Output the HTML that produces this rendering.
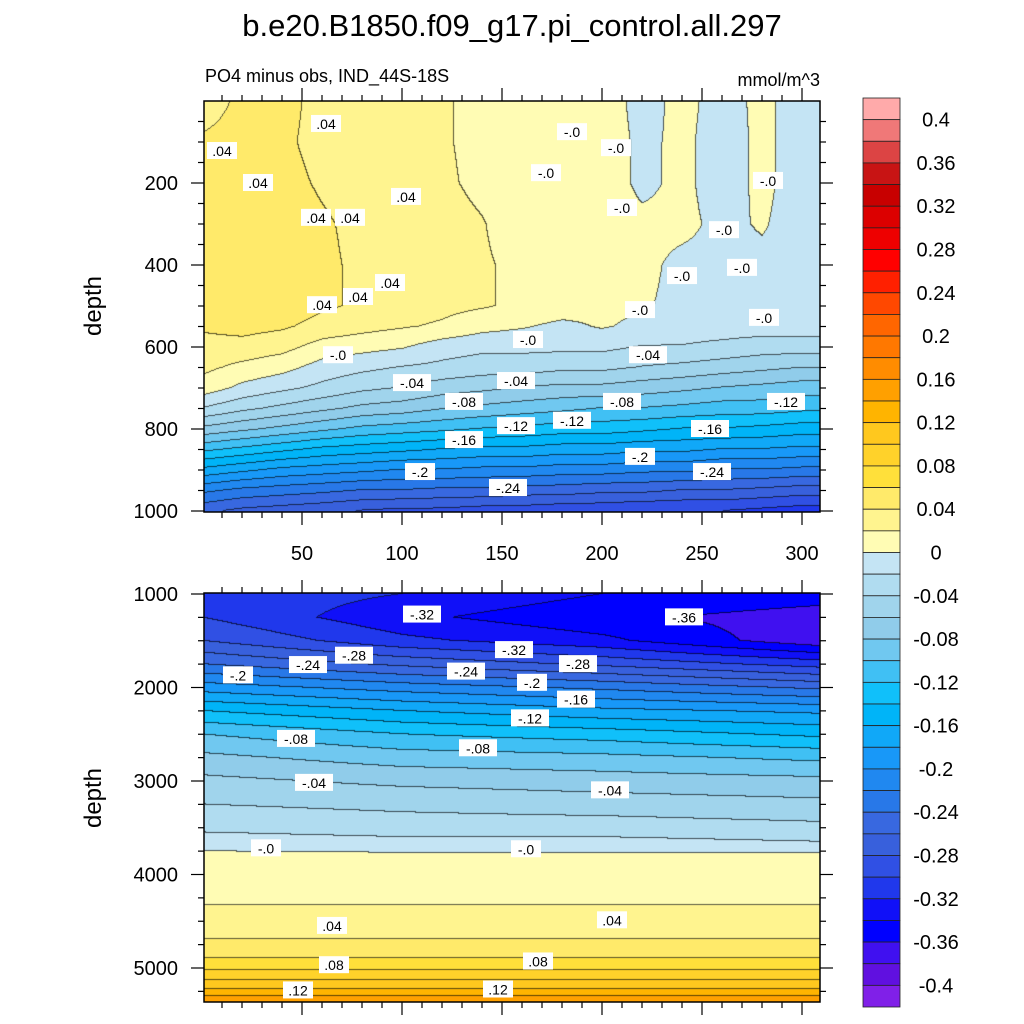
<!DOCTYPE html>
<html><head><meta charset="utf-8">
<style>
body{margin:0;background:#fff;width:1024px;height:1024px;overflow:hidden;font-family:"Liberation Sans",sans-serif;}
#wrap{position:relative;width:1024px;height:1024px;}
canvas{position:absolute;}
svg{position:absolute;left:0;top:0;}
</style></head><body>
<div id="wrap">
<canvas id="cTop" width="616" height="411" style="left:204px;top:101px"></canvas>
<canvas id="cBot" width="616" height="409" style="left:204px;top:593px"></canvas>
<svg id="ov" width="1024" height="1024"></svg>
</div>
<script>
// ---- data ----
const levels = [0.4,0.38,0.36,0.34,0.32,0.3,0.28,0.26,0.24,0.22,0.2,0.18,0.16,0.14,0.12,0.1,0.08,0.06,0.04,0.02,0,-0.02,-0.04,-0.06,-0.08,-0.1,-0.12,-0.14,-0.16,-0.18,-0.2,-0.22,-0.24,-0.26,-0.28,-0.3,-0.32,-0.34,-0.36,-0.38,-0.4];
const colors = ["#FFAAAA","#F07878","#DC4444","#C81414","#C80000","#DC0000","#EE0000","#FF0000","#FF2000","#FF4800","#FF6600","#FF7800","#FF8C00","#FFA000","#FFB400","#FFC81E","#FFD22A","#FFE03A","#FFEA6A","#FFF48F","#FFFCB4",
"#C4E4F4","#B0DCF0","#A0D4EC","#90CCEA","#70C8F0","#40C0F4","#10C0FA","#00B4F8","#10A8F8","#1898F8","#2088F0","#2878E8","#3868E0","#3860DC","#3050E4","#2038EC","#1010F8","#0000FF","#4010F0","#6010E0","#8020E8"];
const cbLabels = ["0.4","0.36","0.32","0.28","0.24","0.2","0.16","0.12","0.08","0.04","0","-0.04","-0.08","-0.12","-0.16","-0.2","-0.24","-0.28","-0.32","-0.36","-0.4"];
const topX = [0,20,40,60,80,100,120,140,160,180,200,220,240,260,280,300,310];
const topDepth = [0,100,200,300,400,500,550,600,650,700,750,800,850,900,950,1000];
const topVals = [
[0.033,0.043,0.045,0.035,0.033,0.025,0.022,0.015,0.012,0.005,0.012,-0.008,0.006,-0.008,0.005,-0.01,-0.01],
[0.042,0.045,0.043,0.035,0.032,0.025,0.022,0.015,0.006,0.006,0.012,-0.005,0.005,-0.01,0.005,-0.01,-0.005],
[0.043,0.048,0.045,0.038,0.033,0.027,0.023,0.016,0.006,0.011,0.012,-0.005,0.005,-0.01,0.005,-0.01,-0.005],
[0.045,0.052,0.048,0.042,0.036,0.031,0.026,0.021,0.011,0.011,0.011,0.005,0.005,-0.005,0.002,-0.01,-0.005],
[0.047,0.058,0.053,0.043,0.037,0.036,0.031,0.022,0.016,0.011,0.011,0.005,-0.005,-0.005,-0.005,-0.005,-0.005],
[0.047,0.058,0.053,0.043,0.037,0.032,0.026,0.022,0.016,0.011,0.006,0.002,-0.005,-0.01,-0.01,-0.01,-0.01],
[0.043,0.047,0.043,0.033,0.027,0.022,0.017,0.007,0.002,-0.005,0.002,-0.005,-0.01,-0.01,-0.01,-0.01,-0.01],
[0.033,0.033,0.027,0.012,0.007,0.002,-0.01,-0.015,-0.015,-0.015,-0.015,-0.021,-0.021,-0.025,-0.03,-0.03,-0.03],
[0.025,0.015,0.007,-0.008,-0.015,-0.021,-0.025,-0.03,-0.03,-0.035,-0.035,-0.041,-0.045,-0.05,-0.055,-0.06,-0.06],
[0.012,-0.005,-0.015,-0.025,-0.035,-0.041,-0.05,-0.055,-0.061,-0.065,-0.065,-0.07,-0.075,-0.081,-0.085,-0.09,-0.09],
[-0.021,-0.035,-0.045,-0.055,-0.065,-0.07,-0.079,-0.085,-0.09,-0.095,-0.101,-0.101,-0.105,-0.11,-0.11,-0.115,-0.115],
[-0.065,-0.075,-0.085,-0.095,-0.105,-0.11,-0.115,-0.121,-0.125,-0.13,-0.13,-0.135,-0.141,-0.141,-0.145,-0.15,-0.15],
[-0.115,-0.125,-0.135,-0.145,-0.15,-0.155,-0.161,-0.165,-0.165,-0.17,-0.17,-0.175,-0.175,-0.181,-0.181,-0.185,-0.185],
[-0.165,-0.175,-0.185,-0.19,-0.195,-0.201,-0.201,-0.205,-0.205,-0.21,-0.21,-0.215,-0.215,-0.221,-0.221,-0.225,-0.225],
[-0.215,-0.225,-0.23,-0.235,-0.241,-0.241,-0.245,-0.245,-0.25,-0.25,-0.255,-0.255,-0.261,-0.261,-0.265,-0.27,-0.27],
[-0.255,-0.265,-0.27,-0.275,-0.281,-0.285,-0.285,-0.29,-0.29,-0.295,-0.295,-0.3,-0.3,-0.3,-0.305,-0.31,-0.31]];
const botX = [0,100,200,310];
const botDepth = [1000,1250,1500,1750,2000,2250,2500,2750,3000,3250,3500,3700,3800,4000,4300,4500,4700,4900,5000,5100,5200,5300,5365];
const botVals = [
[-0.305,-0.32,-0.34,-0.35],[-0.30,-0.335,-0.355,-0.37],[-0.28,-0.315,-0.335,-0.375],[-0.24,-0.265,-0.285,-0.31],
[-0.19,-0.21,-0.225,-0.245],[-0.14,-0.16,-0.175,-0.185],[-0.10,-0.12,-0.13,-0.145],[-0.075,-0.09,-0.095,-0.105],
[-0.055,-0.065,-0.07,-0.075],[-0.04,-0.045,-0.05,-0.055],[-0.025,-0.03,-0.03,-0.035],[-0.005,-0.01,-0.01,-0.015],
[0.005,0.005,0.005,0.005],[0.012,0.012,0.012,0.012],[0.019,0.019,0.019,0.019],[0.026,0.026,0.026,0.026],
[0.041,0.041,0.041,0.041],[0.061,0.061,0.061,0.061],[0.075,0.075,0.075,0.075],[0.095,0.095,0.095,0.095],
[0.115,0.115,0.115,0.115],[0.14,0.14,0.14,0.14],[0.158,0.158,0.158,0.158]];
const topLabels = [["-.0",68,620],["-.04",105,688],["-.08",131,734],["-.04",157,683],["-.12",157,793],["-.16",131,827],["-.12",185,780],["-.08",210,734],["-.04",223,620],["-.16",254,800],["-.2",219,868],["-.2",109,905],["-.24",153,944],["-.24",255,905],["-.12",292,734],
[".04",62,56],[".04",10,122],[".04",28,200],[".04",57,285],[".04",74,285],[".04",102,234],[".04",94,444],[".04",78,478],[".04",60,498],
["-.0",185,76],["-.0",172,176],["-.0",207,115],["-.0",210,261],["-.0",261,315],["-.0",240,427],["-.0",270,407],["-.0",283,195],["-.0",281,529],["-.0",219,510],["-.0",163,583]];
const botLabels = [["-.32",110,1220],["-.36",241,1250],["-.28",76,1660],["-.32",156,1600],["-.24",53,1760],["-.2",18,1870],["-.24",132,1830],["-.28",188,1750],["-.2",165,1950],["-.16",187,2130],["-.12",164,2330],["-.08",47,2550],["-.08",138,2650],["-.04",56,3020],["-.04",204,3100],["-.0",32,3720],["-.0",162,3730],[".04",65,4550],[".04",205,4490],[".08",66,4970],[".08",168,4930],[".12",48,5240],[".12",148,5230]];

// ---- scales ----
const X0=204,X1=820;
const sx = v => 202 + 2*v;
const syTop = d => 101 + d*0.41;
const syBot = d => 594 + (d-1000)*0.0935;
function levelIdx(v){let i=0;while(i<levels.length&&v<levels[i]-1e-6)i++;return i;}
function interp(xs,ds,vals,x,d){
  let i=0;while(i<xs.length-2&&x>xs[i+1])i++;
  let j=0;while(j<ds.length-2&&d>ds[j+1])j++;
  let tx=Math.min(1,Math.max(0,(x-xs[i])/(xs[i+1]-xs[i])));
  let ty=Math.min(1,Math.max(0,(d-ds[j])/(ds[j+1]-ds[j])));
  const a=vals[j][i],b=vals[j][i+1],c=vals[j+1][i],e=vals[j+1][i+1];
  return (a*(1-tx)+b*tx)*(1-ty)+(c*(1-tx)+e*tx)*ty;
}
function hex(h){return [parseInt(h.slice(1,3),16),parseInt(h.slice(3,5),16),parseInt(h.slice(5,7),16)];}
const rgb = colors.map(hex);
function drawField(id,xs,ds,vals,toDepth){
  const cv=document.getElementById(id),ctx=cv.getContext('2d');
  const W=cv.width,H=cv.height,img=ctx.createImageData(W,H);
  const idx=new Int16Array(W*H);
  for(let py=0;py<H;py++)for(let px=0;px<W;px++){
    const x=(px+X0-202)/2, d=toDepth(py);
    idx[py*W+px]=levelIdx(interp(xs,ds,vals,x,d));
  }
  for(let py=0;py<H;py++)for(let px=0;px<W;px++){
    const k=py*W+px,c=rgb[idx[k]];
    let edge=(px<W-1&&idx[k]!==idx[k+1])||(py<H-1&&idx[k]!==idx[k+W]);
    const f=edge?0.35:1;
    img.data[k*4]=c[0]*f;img.data[k*4+1]=c[1]*f;img.data[k*4+2]=c[2]*f;img.data[k*4+3]=255;
  }
  ctx.putImageData(img,0,0);
}
drawField('cTop',topX,topDepth,topVals,py=>(py+0.5)/0.41);
drawField('cBot',botX,botDepth,botVals,py=>1000+(py-1+0.5)/0.0935);

// ---- overlay ----
const NS="http://www.w3.org/2000/svg",ov=document.getElementById('ov');
function el(tag,attrs,parent){const e=document.createElementNS(NS,tag);for(const k in attrs)e.setAttribute(k,attrs[k]);(parent||ov).appendChild(e);return e;}
function txt(s,x,y,size,anchor,name){const t=el('text',{x:x,y:y,'font-size':size,'text-anchor':anchor||'middle','font-family':'Liberation Sans, sans-serif',fill:'#000'});t.textContent=s;return t;}
function contourLabel(s,x,y,name){
  const g=el('g',{});
  
  
  const w=s.length*8+6;
  el('rect',{x:x-w/2,y:y-9,width:w,height:17,fill:'#fff'},g);
  const t=el('text',{x:x,y:y+5,'font-size':14,'text-anchor':'middle','font-family':'Liberation Sans, sans-serif'},g);t.textContent=s;
}
topLabels.forEach(l=>contourLabel(l[0],sx(l[1]),syTop(l[2]),'top-contour-label'));
botLabels.forEach(l=>contourLabel(l[0],sx(l[1]),syBot(l[2]),'bottom-contour-label'));

txt('b.e20.B1850.f09_g17.pi_control.all.297',512,36,31,'middle','chart-title');
txt('PO4 minus obs, IND_44S-18S',205,82,18,'start','panel-subtitle');
txt('mmol/m^3',820,86,18,'end','units-label');
const yl1=txt('depth',0,0,24,'middle','top-y-axis-title');yl1.setAttribute('transform','translate(101,306) rotate(-90)');
const yl2=txt('depth',0,0,24,'middle','bottom-y-axis-title');yl2.setAttribute('transform','translate(101,798) rotate(-90)');

function frame(y0,y1,name){const r=el('rect',{x:X0,y:y0,width:X1-X0,height:y1-y0,fill:'none',stroke:'#000','stroke-width':1.5});}
frame(101,512,'top-plot-frame');frame(593,1002,'bottom-plot-frame');
function line(x1,y1,x2,y2,w){el('line',{x1:x1,y1:y1,x2:x2,y2:y2,stroke:'#000','stroke-width':w||1.2});}
for(let v=10;v<=300;v+=10){const x=sx(v),maj=v%50===0,L=maj?13:6;
  line(x,512,x,512+L);line(x,593,x,593-L);line(x,1002,x,1002+L);line(x,101,x,101-L);
  if(maj)txt(String(v),x,560,20,'middle','x-tick-label');}
for(let d=50;d<=1000;d+=50){const y=syTop(d),maj=d%200===0,L=maj?13:6;
  line(X0-L,y,X0,y);line(X1,y,X1+L,y);
  if(maj)txt(String(d),178,y+7,20,'end','top-y-tick-label');}
for(let d=1000;d<=5300;d+=250){const y=syBot(d),maj=d%1000===0,L=maj?13:6;
  line(X0-L,y,X0,y);line(X1,y,X1+L,y);
  if(maj)txt(String(d),178,y+7,20,'end','bottom-y-tick-label');}

// colorbar
const cbTop=98,bh=909/42;
for(let i=0;i<colors.length;i++){
  const r=el('rect',{x:863,y:cbTop+i*bh,width:37,height:bh,fill:colors[i],stroke:'#222','stroke-width':0.8});
  
  
}
cbLabels.forEach((s,i)=>txt(s,936,cbTop+bh*(1+2*i)+7,20,'middle','colorbar-label'));
</script>
</body></html>
